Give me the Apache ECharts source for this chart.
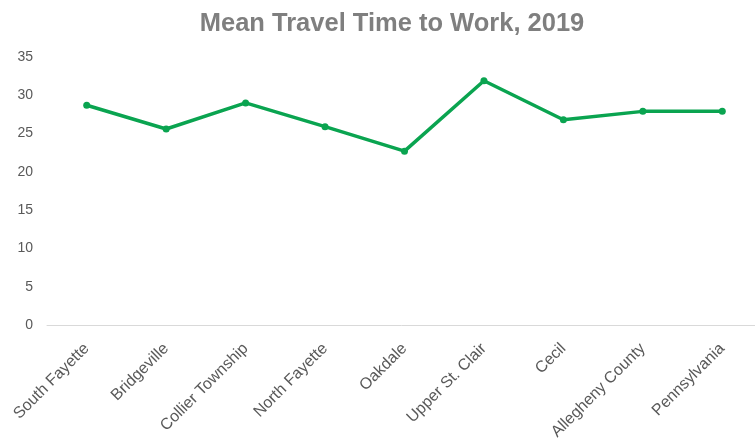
<!DOCTYPE html>
<html>
<head>
<meta charset="utf-8">
<script src="https://cdn.jsdelivr.net/npm/echarts@6/dist/echarts.min.js"></script>
<style>
  html, body { margin: 0; padding: 0; background: #ffffff; }
  #chart { width: 755px; height: 439px; }
</style>
</head>
<body>
<div id="chart"></div>
<script>
// Mean commute time (minutes) by community
const places = ['South Fayette', 'Bridgeville', 'Collier Township', 'North Fayette', 'Oakdale',
                'Upper St. Clair', 'Cecil', 'Allegheny County', 'Pennsylvania'];
const travelMinutes = [28.7, 25.6, 29.0, 25.9, 22.7, 31.9, 26.8, 27.9, 27.9];
const yTicks = [0, 5, 10, 15, 20, 25, 30, 35];

const chart = echarts.init(document.getElementById('chart'));
chart.setOption({
  backgroundColor: '#ffffff',
  animation: false,
  title: {
    text: 'Mean Travel Time to Work, 2019',
    left: 387,
    textAlign: 'center',
    top: 6,
    textStyle: {
      fontFamily: '"Liberation Sans Narrow", "Liberation Sans", Arial, sans-serif',
      fontWeight: 'bold',
      fontSize: 25.5,
      color: '#7f7f7f'
    }
  },
  grid: {
    left: 47, width: 715, top: 57, height: 268,
    containLabel: false,
    outerBoundsMode: 'none'
  },
  xAxis: {
    type: 'category',
    data: places,
    boundaryGap: true,
    axisLine: { lineStyle: { color: '#d9d9d9', width: 1 } },
    axisTick: { show: false },
    axisLabel: {
      rotate: 45,
      interval: 0,
      margin: 21,
      color: '#595959',
      fontSize: 16,
      fontFamily: '"Liberation Sans", Arial, sans-serif'
    }
  },
  yAxis: {
    type: 'value',
    min: yTicks[0],
    max: yTicks[yTicks.length - 1],
    interval: 5,
    axisLine: { show: false },
    axisTick: { show: false },
    splitLine: { show: false },
    axisLabel: {
      color: '#595959',
      fontSize: 14,
      margin: 14,
      fontFamily: '"Liberation Sans Narrow", "Liberation Sans", Arial, sans-serif'
    }
  },
  series: [{
    type: 'line',
    data: travelMinutes,
    symbol: 'circle',
    symbolSize: 7,
    lineStyle: { color: '#0aa450', width: 3.5 },
    itemStyle: { color: '#0aa450' }
  }]
});
</script>
</body>
</html>
